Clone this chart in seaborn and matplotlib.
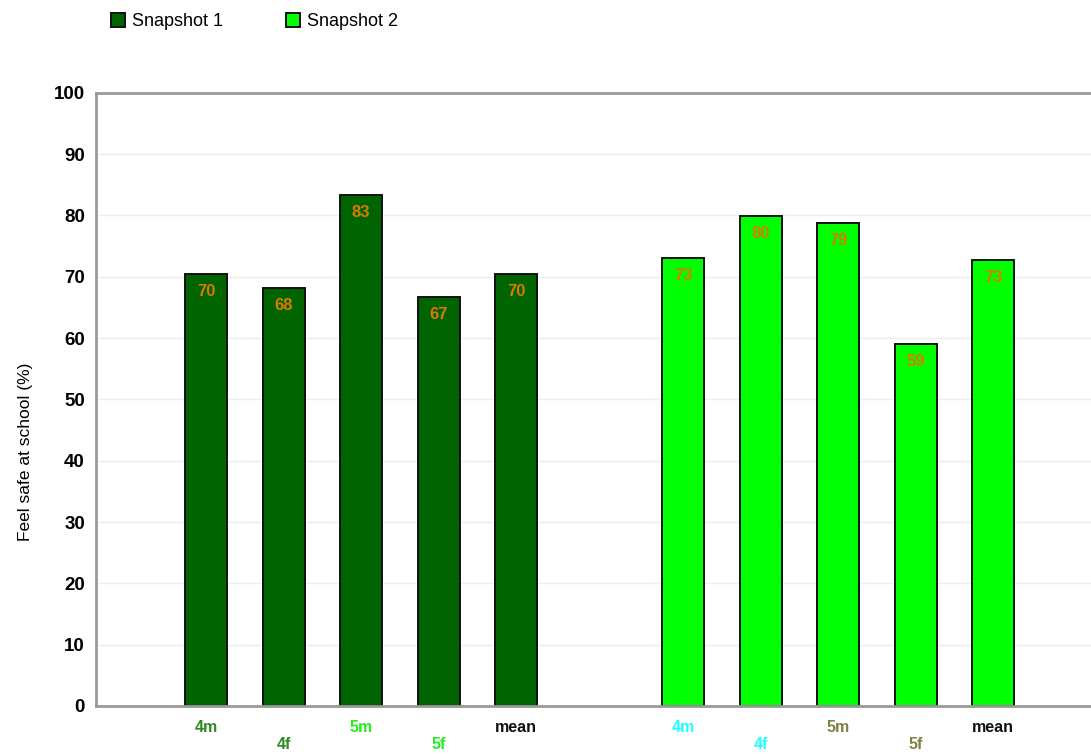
import numpy as np
import pandas as pd
import matplotlib
matplotlib.use("Agg")
import matplotlib.pyplot as plt
import seaborn as sns

# ── DATA ──────────────────────────────────────────────────────────────────────

GROUPS      = ["4m", "4f", "5m", "5f", "mean"]
SNAPSHOTS   = ["Snapshot 1", "Snapshot 2"]
SNAP1_VALS  = [70.4, 68.2, 83.4, 66.7, 70.4]
SNAP2_VALS  = [73.1, 79.9, 78.8, 59.1, 72.8]

SNAP_COLORS = {"Snapshot 1": "#006400", "Snapshot 2": "#00ff00"}
TICK_COLORS = [
    ["#2e8b22", "#2e8b22", "#22ee22", "#22ee22", "#111111"],
    ["#22ffff", "#22ffff", "#808040", "#808040", "#111111"],
]
LABEL_COLOR = "#d97b00"
GROUP_GAP   = 6.15   # offset of the second snapshot block, in bar slots

# ── BUILD TABLE ───────────────────────────────────────────────────────────────

rows = []
for s, (snap, vals) in enumerate(zip(SNAPSHOTS, [SNAP1_VALS, SNAP2_VALS])):
    for i, (g, v) in enumerate(zip(GROUPS, vals)):
        rows.append({"snapshot": snap, "group": g, "value": v,
                     "pos": i + s * GROUP_GAP})
df = pd.DataFrame(rows)

# ── PLOT ──────────────────────────────────────────────────────────────────────

sns.set_style("white")
plt.rcParams.update({
    "font.family": ["Liberation Sans", "DejaVu Sans"],
    "text.color":  "black",
    "axes.labelcolor": "black",
    "ytick.color": "black",
})

fig = plt.figure(figsize=(10.91, 7.55), dpi=100)
ax = fig.add_axes([0.088, 0.065, 0.912, 0.812])

sns.barplot(data=df, x="pos", y="value", hue="snapshot", native_scale=True,
            dodge=False, width=0.54, palette=SNAP_COLORS, saturation=1,
            edgecolor="#111111", linewidth=1.4, ax=ax, legend=True)

for cont in ax.containers:
    ax.bar_label(cont, labels=[f"{b.get_height():.0f}" for b in cont],
                 padding=-18, color=LABEL_COLOR, fontsize=12,
                 fontweight="bold")

ax.set_ylim(0, 100)
ax.set_xlim(-1.42, 4 + GROUP_GAP + 1.26)
ax.set_yticks(np.arange(0, 101, 10))
ax.yaxis.grid(True, color="#eeeeee", linewidth=1)
ax.set_axisbelow(True)

positions = df["pos"].tolist()
labels = []
for i, g in enumerate(GROUPS * 2):
    labels.append(g if (i % 5) % 2 == 0 else "\n" + g)
ax.set_xticks(positions)
ax.set_xticklabels(labels, fontsize=11.5, fontweight="bold", linespacing=1.2)
for lab, col in zip(ax.get_xticklabels(), TICK_COLORS[0] + TICK_COLORS[1]):
    lab.set_color(col)

for tl in ax.get_yticklabels():
    tl.set_fontweight("bold")
    tl.set_fontsize(13.5)

ax.tick_params(axis="y", length=5, width=1.2, color="#222222", pad=3)
ax.tick_params(axis="x", length=5, width=1.2, color="#888888", pad=5)

for side in ["left", "bottom", "top"]:
    ax.spines[side].set_color("#999999")
    ax.spines[side].set_linewidth(2)
ax.spines["right"].set_visible(False)

ax.set_xlabel("")
ax.set_ylabel("Feel safe at school (%)", fontsize=12.5)
ax.yaxis.set_label_coords(-0.063, 0.414)

handles, leg_labels = ax.get_legend_handles_labels()
ax.get_legend().remove()
fig.legend(handles, leg_labels, loc="upper left", bbox_to_anchor=(0.087, 1.004),
           ncol=2, frameon=False, fontsize=13, handlelength=0.75,
           handleheight=0.75, handletextpad=0.4, columnspacing=3.5)

fig.savefig("out.png", dpi=100)
